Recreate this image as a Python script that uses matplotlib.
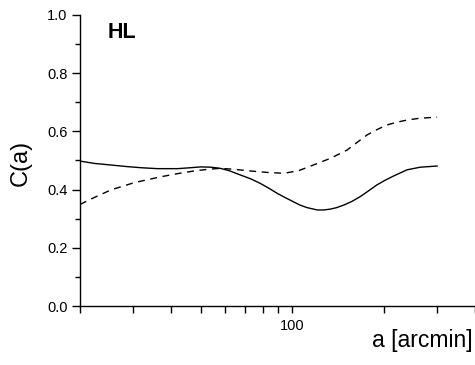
import matplotlib
matplotlib.use("Agg")
import matplotlib.pyplot as plt
import numpy as np
from matplotlib.ticker import FixedLocator, MultipleLocator, NullFormatter, FixedFormatter

plt.rcParams["font.family"] = ["Liberation Sans", "DejaVu Sans"]

# solid curve
a_solid = [20, 22.3, 25, 28.6, 32, 36, 41.9, 46, 50, 54, 58, 62, 67.6, 73, 78.6,
           84, 89.3, 95, 101, 106, 112, 121, 127, 133.7, 140, 148, 157, 167.6,
           178, 190, 203, 216, 239, 264, 300]
c_solid = [0.498, 0.490, 0.485, 0.479, 0.475, 0.472, 0.472, 0.475, 0.478, 0.477, 0.473,
           0.465, 0.450, 0.437, 0.421, 0.404, 0.387, 0.372, 0.358, 0.347, 0.338, 0.330,
           0.330, 0.333, 0.338, 0.347, 0.359, 0.376, 0.395, 0.416, 0.433, 0.447, 0.468,
           0.477, 0.481]

# dashed curve
a_dash = [20, 22.3, 25.3, 30.2, 36.9, 42, 47.5, 53, 58, 64, 71, 82.8, 93.8, 105,
          117.8, 134, 151.6, 163.5, 176.5, 190, 205, 222, 239, 262, 289, 300]
c_dash = [0.349, 0.373, 0.399, 0.424, 0.444, 0.455, 0.464, 0.470, 0.473, 0.470, 0.465,
          0.459, 0.456, 0.465, 0.485, 0.508, 0.536, 0.562, 0.588, 0.606, 0.622, 0.632,
          0.639, 0.645, 0.648, 0.649]

x_minor = [20, 30, 40, 50, 60, 70, 80, 90, 200, 300, 400]
x_major = [100]
x_major_labels = ["100"]

fig = plt.figure(figsize=(4.75, 3.65), dpi=100)
ax = fig.add_axes([80 / 475, 59 / 365, 395 / 475, 291 / 365])

ax.plot(a_solid, c_solid, color="black", lw=1.0)
ax.plot(a_dash, c_dash, color="black", lw=1.0, dashes=(5, 4))

ax.set_xscale("log")
ax.set_xlim(20, 400)
ax.set_ylim(0.0, 1.0)

ax.xaxis.set_major_locator(FixedLocator(x_major))
ax.xaxis.set_major_formatter(FixedFormatter(x_major_labels))
ax.xaxis.set_minor_locator(FixedLocator(x_minor))
ax.xaxis.set_minor_formatter(NullFormatter())
ax.yaxis.set_major_locator(MultipleLocator(0.2))
ax.yaxis.set_minor_locator(MultipleLocator(0.1))
ax.yaxis.set_major_formatter(plt.FormatStrFormatter("%.1f"))

ax.tick_params(axis="both", which="major", direction="out", labelsize=10.5, width=1.0)
ax.tick_params(axis="y", which="major", length=6, pad=3)
ax.tick_params(axis="y", which="minor", length=3.5, width=1.0)
ax.tick_params(axis="x", which="both", length=5, width=1.0)
ax.tick_params(axis="x", which="major", pad=4)

for side in ("top", "right"):
    ax.spines[side].set_visible(False)
for side in ("left", "bottom"):
    ax.spines[side].set_linewidth(1.0)

ax.set_ylabel("C(a)", fontsize=17)
ax.yaxis.set_label_coords(-0.121, 0.49)

fig.text(473 / 475, 1 - 341 / 365, "a [arcmin]", fontsize=16.5, ha="right", va="center")
fig.text(108 / 475, 1 - 33 / 365, "HL", fontsize=15.5, fontweight="bold", ha="left", va="center")

fig.savefig("out.png", dpi=100)
